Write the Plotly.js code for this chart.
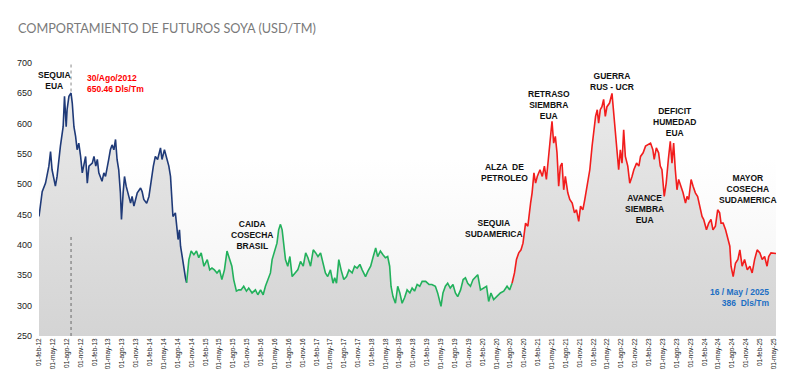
<!DOCTYPE html>
<html>
<head>
<meta charset="utf-8">
<script src="https://cdn.plot.ly/plotly-3.0.1.min.js"></script>
<style>
  html, body { margin: 0; padding: 0; background: #ffffff; }
  #chart {
    width: 800px; height: 380px;
    background: linear-gradient(to bottom, #ffffff 0%, #ffffff 35%, #f1f1f1 100%) no-repeat 39px 63px / 737px 273px;
  }
</style>
</head>
<body>
<div id="chart"></div>
<script>
// ---- DATA ----
const fechas = [
 '2012-02-01','2012-02-12','2012-02-22','2012-03-15','2012-04-06','2012-04-17','2012-04-27','2012-05-19','2012-05-30','2012-06-21',
 '2012-07-09','2012-07-18','2012-07-29','2012-08-04','2012-08-16','2012-08-30','2012-09-07','2012-09-18','2012-09-29','2012-10-09',
 '2012-10-20','2012-11-01','2012-11-12','2012-12-04','2012-12-15','2012-12-26','2013-01-17','2013-01-28','2013-02-09','2013-02-19',
 '2013-03-01','2013-03-22','2013-04-03','2013-04-14','2013-04-24','2013-05-05','2013-05-16','2013-05-27','2013-06-08','2013-06-19',
 '2013-06-29','2013-07-10','2013-07-21','2013-07-28','2013-08-08','2013-08-17','2013-08-28','2013-09-10','2013-09-26','2013-10-06',
 '2013-10-18','2013-10-29','2013-11-09','2013-12-01','2013-12-11','2013-12-22','2014-01-10','2014-01-25','2014-02-06','2014-02-23',
 '2014-03-08','2014-03-23','2014-04-11','2014-04-21','2014-05-07','2014-05-20','2014-06-05','2014-06-16','2014-06-22','2014-07-02',
 '2014-07-18','2014-07-25','2014-08-05','2014-08-14','2014-08-21','2014-09-01','2014-09-12','2014-09-23','2014-09-30',
 '2014-10-15','2014-10-30','2014-11-17','2014-12-04','2014-12-19','2015-01-04','2015-01-22','2015-02-13','2015-03-01','2015-03-16',
 '2015-04-01','2015-04-18','2015-05-05','2015-05-20','2015-06-06','2015-06-23','2015-07-10','2015-07-25','2015-08-06','2015-08-24',
 '2015-09-08','2015-09-23','2015-10-11','2015-10-29','2015-11-13','2015-12-05','2015-12-27','2016-01-12','2016-01-30','2016-02-16',
 '2016-03-02','2016-03-17','2016-04-04','2016-04-15','2016-04-30','2016-05-17','2016-05-28','2016-06-09','2016-06-20','2016-07-01',
 '2016-07-12','2016-07-27','2016-08-10','2016-08-25','2016-09-17','2016-10-01','2016-10-19','2016-11-06','2016-11-22','2016-12-07',
 '2016-12-24','2017-01-11','2017-01-27','2017-02-11','2017-02-28','2017-03-16','2017-04-01','2017-04-16','2017-05-04','2017-05-21',
 '2017-06-01','2017-06-13','2017-06-28','2017-07-13','2017-07-31','2017-08-18','2017-09-03','2017-09-24','2017-10-10','2017-10-27',
 '2017-11-14','2017-11-29','2017-12-21','2018-01-06','2018-01-24','2018-02-10','2018-02-26','2018-03-11','2018-03-29','2018-04-15',
 '2018-05-01','2018-05-16','2018-05-29','2018-06-07','2018-06-20','2018-07-06','2018-07-21','2018-08-04','2018-08-19','2018-09-04',
 '2018-09-21','2018-10-09','2018-10-24','2018-11-09','2018-11-26','2018-12-13','2018-12-29','2019-01-21','2019-02-12','2019-03-03',
 '2019-03-26','2019-04-10','2019-04-23','2019-05-02','2019-05-15','2019-05-31','2019-06-15','2019-07-02','2019-07-20','2019-08-05',
 '2019-08-20','2019-09-08','2019-09-25','2019-10-10','2019-10-25','2019-11-12','2019-11-29','2019-12-15','2019-12-30','2020-01-17',
 '2020-02-04','2020-02-26','2020-03-11','2020-03-26','2020-04-13','2020-05-05','2020-05-27','2020-06-18','2020-07-10','2020-07-27',
 '2020-08-12',
 '2020-08-28','2020-09-10','2020-09-25','2020-10-10','2020-10-23','2020-11-09','2020-11-24','2020-12-12','2020-12-22','2021-01-03',
 '2021-01-14','2021-01-25','2021-02-12','2021-02-27','2021-03-13','2021-03-26','2021-04-10','2021-04-21','2021-05-02','2021-05-13',
 '2021-05-24','2021-06-04','2021-06-15','2021-06-26','2021-07-07','2021-07-18','2021-07-29','2021-08-14','2021-08-27','2021-09-12',
 '2021-09-27','2021-10-10','2021-10-25','2021-11-06','2021-11-21','2021-12-04','2021-12-19','2022-01-06','2022-01-21','2022-02-02',
 '2022-02-13','2022-02-24','2022-03-05','2022-03-16','2022-03-27','2022-04-07','2022-04-18','2022-04-29','2022-05-16','2022-06-01',
 '2022-06-12','2022-06-23','2022-07-03','2022-07-15','2022-07-26','2022-08-06','2022-08-17','2022-08-28','2022-09-13','2022-09-26',
 '2022-10-11','2022-10-23','2022-11-10','2022-11-25','2022-12-06','2022-12-23','2023-01-08','2023-01-23','2023-02-10','2023-02-25',
 '2023-03-06','2023-03-20','2023-04-04','2023-04-15','2023-04-26','2023-05-11','2023-05-24','2023-06-07','2023-06-20','2023-07-01',
 '2023-07-12','2023-07-23','2023-08-03','2023-08-14','2023-08-29','2023-09-12','2023-09-28','2023-10-08','2023-10-19','2023-11-04',
 '2023-11-17','2023-12-02','2023-12-17','2023-12-31','2024-01-15','2024-01-26','2024-02-13','2024-02-28','2024-03-14','2024-03-27',
 '2024-04-12','2024-04-27','2024-05-10','2024-05-19','2024-06-02','2024-06-18','2024-07-02','2024-07-16','2024-07-24','2024-08-07',
 '2024-08-22','2024-09-07','2024-09-20','2024-10-05','2024-10-21','2024-11-08','2024-11-25','2024-12-10','2024-12-26','2025-01-12',
 '2025-01-30','2025-02-14','2025-03-02','2025-03-18','2025-03-29','2025-04-13','2025-05-16'
];
const precios = [
 447,469,488,502,530,554,524,497,513,563,
 595,645,595,623,645,650.46,634,595,579,557,
 568,546,519,546,502,530,535,546,530,541,
 519,505,519,513,524,541,557,565,557,574,
 541,524,486,442,486,513,497,486,469,480,
 464,475,486,494,488,475,469,480,502,530,
 546,541,560,541,557,546,530,513,486,447,
 453,431,409,425,398,381,359,345,338,
 376,390,384,390,379,387,365,376,359,362,
 359,354,359,343,359,390,376,365,343,324,
 326,326,332,324,329,321,326,318,326,318,
 332,343,354,376,387,403,425,434,425,398,
 376,365,381,348,354,359,373,365,387,379,
 365,392,387,381,387,368,354,348,359,337,
 346,337,376,359,343,348,359,354,365,362,
 368,359,348,357,365,381,395,381,390,384,
 379,381,365,332,315,304,332,321,304,313,
 326,321,329,324,335,332,340,340,335,335,
 332,321,310,299,321,332,337,329,335,321,
 315,326,343,346,337,332,343,348,351,326,
 329,332,307,321,310,315,321,324,332,326,
 337,
 354,376,387,392,403,436,431,469,486,519,
 502,513,524,513,530,508,552,579,604,568,
 579,552,497,530,535,491,513,486,475,469,
 453,458,439,464,458,475,497,524,563,590,
 612,623,601,623,628,640,612,628,634,650,
 618,590,557,524,557,535,590,546,530,502,
 513,524,535,530,546,552,563,565,568,557,
 541,560,552,530,524,480,502,541,571,535,
 568,524,491,508,497,486,469,480,475,508,
 497,486,480,464,447,442,425,436,442,425,
 431,458,453,436,436,425,409,398,365,348,
 370,376,392,365,376,359,365,354,376,392,
 387,376,381,365,381,387,386
];
// period boundaries for the line colours
const cortes = ['2014-09-30', '2020-08-12'];
const coloresTramo = ['#1f3a78', '#22b15c', '#f21d1d'];

const tickFechas = [
 '2012-02-01','2012-05-01','2012-08-01','2012-11-01','2013-02-01','2013-05-01','2013-08-01','2013-11-01',
 '2014-02-01','2014-05-01','2014-08-01','2014-11-01','2015-02-01','2015-05-01','2015-08-01','2015-11-01',
 '2016-02-01','2016-05-01','2016-08-01','2016-11-01','2017-02-01','2017-05-01','2017-08-01','2017-11-01',
 '2018-02-01','2018-05-01','2018-08-01','2018-11-01','2019-02-01','2019-05-01','2019-08-01','2019-11-01',
 '2020-02-01','2020-05-01','2020-08-01','2020-11-01','2021-02-01','2021-05-01','2021-08-01','2021-11-01',
 '2022-02-01','2022-05-01','2022-08-01','2022-11-01','2023-02-01','2023-05-01','2023-08-01','2023-11-01',
 '2024-02-01','2024-05-01','2024-08-01','2024-11-01','2025-02-01','2025-05-01'
];
const tickTextos = [
 '01-feb-12','01-may-12','01-ago-12','01-nov-12','01-feb-13','01-may-13','01-ago-13','01-nov-13',
 '01-feb-14','01-may-14','01-ago-14','01-nov-14','01-feb-15','01-may-15','01-ago-15','01-nov-15',
 '01-feb-16','01-may-16','01-ago-16','01-nov-16','01-feb-17','01-may-17','01-ago-17','01-nov-17',
 '01-feb-18','01-may-18','01-ago-18','01-nov-18','01-feb-19','01-may-19','01-ago-19','01-nov-19',
 '01-feb-20','01-may-20','01-ago-20','01-nov-20','01-feb-21','01-may-21','01-ago-21','01-nov-21',
 '01-feb-22','01-may-22','01-ago-22','01-nov-22','01-feb-23','01-may-23','01-ago-23','01-nov-23',
 '01-feb-24','01-may-24','01-ago-24','01-nov-24','01-feb-25','01-may-25'
];
const yTicks = [250, 300, 350, 400, 450, 500, 550, 600, 650, 700];

const eventos = [
 {x: '2012-05-10', y: 671, t: 'SEQUIA<br>EUA'},
 {x: '2015-12-11', y: 417, t: 'CAIDA<br>COSECHA<br>BRASIL'},
 {x: '2020-04-15', y: 428, t: 'SEQUIA<br>SUDAMERICA'},
 {x: '2020-06-20', y: 519, t: 'ALZA  DE<br>PETROLEO'},
 {x: '2021-04-12', y: 630, t: 'RETRASO<br>SIEMBRA<br>EUA'},
 {x: '2022-06-01', y: 670, t: 'GUERRA<br>RUS - UCR'},
 {x: '2023-07-20', y: 602, t: 'DEFICIT<br>HUMEDAD<br>EUA'},
 {x: '2022-12-29', y: 460, t: 'AVANCE<br>SIEMBRA<br>EUA'},
 {x: '2024-11-13', y: 493, t: 'MAYOR<br>COSECHA<br>SUDAMERICA'}
];
const maxFecha = '2012-08-30';
const maxValor = 650.46;
const ultFecha = '2025-05-16';
const ultValor = 386;

// ---- BUILD ----
const i1 = fechas.indexOf(cortes[0]);
const i2 = fechas.indexOf(cortes[1]);
const tramos = [[0, i1 + 1], [i1, i2 + 1], [i2, fechas.length]];

const traces = [{
  x: fechas, y: precios, type: 'scatter', mode: 'lines',
  line: {width: 0, color: 'rgba(0,0,0,0)'},
  fill: 'tozeroy',
  fillgradient: {type: 'vertical', start: 250, stop: 700,
    colorscale: [[0, '#d4d4d4'], [1, '#ececec']]},
  hoverinfo: 'skip', showlegend: false
}];
tramos.forEach((r, k) => {
  traces.push({
    x: fechas.slice(r[0], r[1]), y: precios.slice(r[0], r[1]),
    type: 'scatter', mode: 'lines',
    line: {color: coloresTramo[k], width: 1.6},
    showlegend: false
  });
});

const font = 'Liberation Sans, Arial, sans-serif';
const annotations = eventos.map(e => ({
  x: e.x, y: e.y, text: '<b>' + e.t + '</b>', showarrow: false,
  xanchor: 'center', yanchor: 'middle', align: 'center',
  font: {family: font, size: 8.5, color: '#111111'}
}));
annotations.push({
  x: '2012-11-30', y: 666, xanchor: 'left', yanchor: 'middle', align: 'left', showarrow: false,
  text: '<b>30/Ago/2012<br>' + maxValor.toFixed(2) + ' Dls/Tm</b>',
  font: {family: font, size: 8.5, color: '#ff0000'}
});
annotations.push({
  x: '2025-04-20', y: 314, xanchor: 'right', yanchor: 'middle', align: 'right', showarrow: false,
  text: '<b>16 / May / 2025<br>' + ultValor + '  Dls/Tm</b>',
  font: {family: font, size: 8.5, color: '#1d6fc4'}
});

const layout = {
  width: 800, height: 380,
  margin: {l: 39, r: 24, t: 63, b: 44},
  paper_bgcolor: 'rgba(0,0,0,0)',
  plot_bgcolor: 'rgba(0,0,0,0)',
  title: {
    text: 'COMPORTAMIENTO DE FUTUROS SOYA (USD/TM)',
    xref: 'container', yref: 'container', x: 0.0225, xanchor: 'left', y: 0.926, yanchor: 'middle',
    font: {family: 'Lato, sans-serif', size: 12.7, color: '#7a7a7a'}
  },
  xaxis: {
    type: 'date', range: [fechas[0], ultFecha],
    tickmode: 'array', tickvals: tickFechas, ticktext: tickTextos,
    tickangle: -90, showgrid: false, zeroline: false, showline: false, ticks: '',
    tickfont: {family: font, size: 6.5, color: '#222222'}
  },
  yaxis: {
    range: [250, 700], tickmode: 'array', tickvals: yTicks,
    showgrid: false, zeroline: false, showline: false, ticks: '',
    ticklabelstandoff: 6,
    tickfont: {family: font, size: 9, color: '#222222'}
  },
  shapes: [
    {type: 'line', xref: 'x', yref: 'y', x0: maxFecha, x1: maxFecha, y0: 653, y1: 700,
     line: {color: '#8a8a8a', width: 1, dash: 'dot'}},
    {type: 'line', xref: 'x', yref: 'y', x0: maxFecha, x1: maxFecha, y0: 250, y1: 414,
     line: {color: '#6a6a6a', width: 1, dash: 'dot'}}
  ],
  annotations: annotations,
  showlegend: false
};

Plotly.newPlot('chart', traces, layout, {displayModeBar: false, staticPlot: true});
</script>
</body>
</html>
